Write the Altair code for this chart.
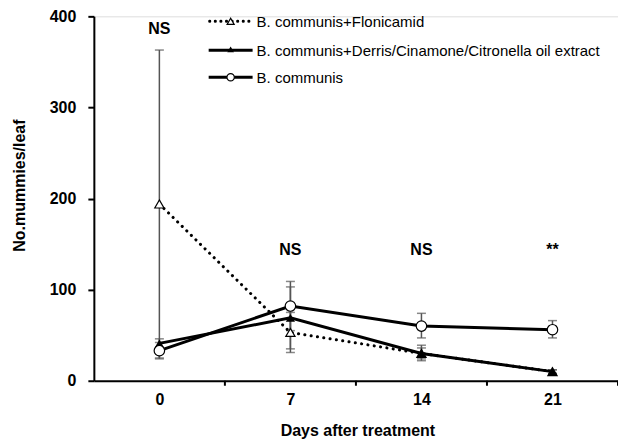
import altair as alt
import pandas as pd

days = [0, 7, 14, 21]
series = ["B. communis+Flonicamid",
          "B. communis+Derris/Cinamone/Citronella oil extract",
          "B. communis"]
flon_mean = [194, 53, 30, 10]
flon_lo = [25, 31, 24, 8]
flon_hi = [363, 75, 36, 12]
derr_mean = [41, 69, 30, 10]
derr_lo = [36, 35, 22, 8]
derr_hi = [46, 103, 39, 12]
bc_mean = [33, 82, 60, 56]
bc_lo = [24, 55, 47, 47]
bc_hi = [42, 109, 74, 66]
sig_labels = ["NS", "NS", "NS", "**"]
sig_y = [386, 143, 143, 143]
boundaries = [3.5, 10.5, 17.5, 24.5]

rows = []
for s, m, lo, hi in zip(series, [flon_mean, derr_mean, bc_mean],
                        [flon_lo, derr_lo, bc_lo], [flon_hi, derr_hi, bc_hi]):
    for d, a, b, c in zip(days, m, lo, hi):
        rows.append({"series": s, "day": d, "mean": a, "lo": b, "hi": c})
df = pd.DataFrame(rows)
sig = pd.DataFrame({"day": days, "y": sig_y, "label": sig_labels})
bnd = pd.DataFrame({"x": boundaries})

W, H = 525, 365
FONT = "Liberation Sans"

xs = alt.Scale(domain=[-3.5, 24.5], nice=False, zero=False)
ys = alt.Scale(domain=[0, 400], nice=False)

X = alt.X("day:Q", scale=xs, axis=alt.Axis(
    values=days, title="Days after treatment", grid=False, ticks=False,
    domainColor="black", domainWidth=2, labelFont=FONT, labelFontSize=16,
    labelFontWeight="bold", labelColor="black", labelPadding=11,
    titleFont=FONT, titleFontSize=16, titleFontWeight="bold", titleColor="black",
    titleX=264, titleY=55, titleBaseline="alphabetic"))
Y = alt.Y("mean:Q", scale=ys, axis=alt.Axis(
    values=[0, 100, 200, 300, 400], title="No.mummies/leaf", grid=False,
    tickSize=6, tickWidth=2, tickColor="black", domainColor="black",
    domainWidth=2, labelFont=FONT, labelFontSize=16, labelFontWeight="bold",
    labelColor="black", labelPadding=12, titleFont=FONT, titleFontSize=16,
    titleFontWeight="bold", titleColor="black", titleX=-74, titleY=169,
    titleBaseline="middle", titleAngle=-90))

base = alt.Chart(df)

ERR = "#555555"
err = base.mark_rule(color=ERR, strokeWidth=1.5).encode(
    x=X, y=alt.Y("lo:Q", scale=ys), y2="hi:Q")
cap_lo = base.mark_tick(color=ERR, thickness=1.5, size=9, orient="horizontal").encode(
    x=X, y=alt.Y("lo:Q", scale=ys))
cap_hi = base.mark_tick(color=ERR, thickness=1.5, size=9, orient="horizontal").encode(
    x=X, y=alt.Y("hi:Q", scale=ys))

def sel(name):
    return base.transform_filter(alt.datum.series == name)

DOT = [0.1, 6.3]
l_flon = sel(series[0]).mark_line(color="black", strokeWidth=3,
                                  strokeDash=DOT, strokeCap="round").encode(x=X, y=Y)
p_flon = sel(series[0]).mark_point(shape="triangle-up", size=85, filled=True,
                                   fill="white", stroke="black", strokeWidth=1.2,
                                   opacity=1).encode(x=X, y=Y)
l_derr = sel(series[1]).mark_line(color="black", strokeWidth=3).encode(x=X, y=Y)
p_derr = sel(series[1]).mark_point(shape="triangle-up", size=85, filled=True,
                                   fill="black", opacity=1).encode(x=X, y=Y)
l_bc = sel(series[2]).mark_line(color="black", strokeWidth=3).encode(x=X, y=Y)
p_bc = sel(series[2]).mark_point(shape="circle", size=110, filled=True,
                                 fill="white", stroke="black", strokeWidth=1.2,
                                 opacity=1).encode(x=X, y=Y)

ticks = alt.Chart(bnd).mark_rule(color="black", strokeWidth=2).encode(
    x=alt.X("x:Q", scale=xs), y=alt.value(H), y2=alt.value(H + 5))

sig_t = alt.Chart(sig).mark_text(font=FONT, fontSize=16, fontWeight="bold",
                                 color="black", baseline="middle").encode(
    x=alt.X("day:Q", scale=xs), y=alt.Y("y:Q", scale=ys), text="label:N")

leg = []
leg_rows = [(series[0], 5, "dot"), (series[1], 34, "tri"), (series[2], 61, "circ")]
LX1, LX2, LM, LT = 115, 159, 137, 163
for name, yy, kind in leg_rows:
    d = alt.Chart(pd.DataFrame({"label": [name]}))
    if kind == "dot":
        leg.append(d.mark_rule(color="black", strokeWidth=3, strokeDash=[0.1, 5.5],
                               strokeCap="round").encode(
            x=alt.value(LX1 + 1), x2=alt.value(LX2), y=alt.value(yy)))
        leg.append(d.mark_point(shape="triangle-up", size=50, filled=True, fill="white",
                                stroke="black", strokeWidth=1.2, opacity=1).encode(
            x=alt.value(LM), y=alt.value(yy)))
    elif kind == "tri":
        leg.append(d.mark_rule(color="black", strokeWidth=3).encode(
            x=alt.value(LX1), x2=alt.value(LX2), y=alt.value(yy)))
        leg.append(d.mark_point(shape="triangle-up", size=45, filled=True, fill="black",
                                opacity=1).encode(x=alt.value(LM), y=alt.value(yy - 1)))
    else:
        leg.append(d.mark_rule(color="black", strokeWidth=3).encode(
            x=alt.value(LX1), x2=alt.value(LX2), y=alt.value(yy)))
        leg.append(d.mark_point(shape="circle", size=55, filled=True, fill="white",
                                stroke="black", strokeWidth=1.2, opacity=1).encode(
            x=alt.value(LM), y=alt.value(yy)))
    leg.append(d.mark_text(font=FONT, fontSize=15, color="black", align="left",
                           baseline="middle").encode(
        x=alt.value(LT), y=alt.value(yy + 1), text="label:N"))

chart = alt.layer(
    err, cap_lo, cap_hi, l_flon, l_derr, l_bc, p_flon, p_derr, p_bc, ticks, sig_t, *leg
).properties(
    width=W, height=H,
    autosize=alt.AutoSizeParams(type="none"),
    padding={"left": 86, "top": 8, "right": 0, "bottom": 58},
).configure_view(stroke=None).configure(background="white")

chart.save("out.html", embed_options={"renderer": "svg", "actions": False})
